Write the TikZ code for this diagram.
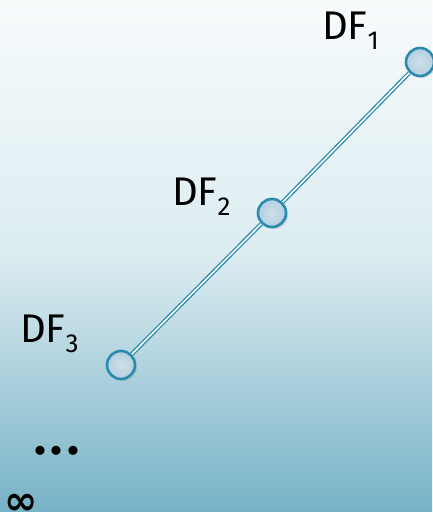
\documentclass[tikz,border=0pt]{standalone}
\usepackage{fontspec}
\setmainfont{Fira Sans}
\newfontfamily\symfont{DejaVu Sans}
\usetikzlibrary{shadows}

\definecolor{bgtop}{HTML}{F7FBFC}
\definecolor{bgmid}{HTML}{DCECF1}
\definecolor{bgbot}{HTML}{76B2C6}
\definecolor{ringcol}{HTML}{2B8BAF}
\definecolor{ballcol}{HTML}{C3D7E5}

\begin{document}
\begin{tikzpicture}[
      x=1pt, y=-1pt,
      ball/.style={circle, draw=ringcol, line width=2.6pt, minimum size=28pt, inner sep=0pt,
        inner color=ballcol!80, outer color=ballcol!90!ringcol,
        drop shadow={shadow xshift=2pt, shadow yshift=-2pt, opacity=.25}},
      link/.style={double=white, draw=ringcol, line width=1.3pt, double distance=1.6pt},
      label/.style={anchor=base west, inner sep=0pt, font=\fontsize{40}{44}\selectfont}
    ]

    % background
    \shade[top color=bgtop, bottom color=bgbot, middle color=bgmid] (0,0) rectangle (432,512);
    \useasboundingbox (0,0) rectangle (432,512);

    \node[ball] (df1) at (420,62) {};
    \node[ball] (df2) at (272,213) {};
    \node[ball] (df3) at (121,365) {};

    \draw[link] (df1) -- (df2);
    \draw[link] (df2) -- (df3);

    \node[label] (l1) at (322,39) {DF\raisebox{-.27em}{\fontsize{26}{26}\selectfont 1}};
    \node[label] (l2) at (172,205) {DF\raisebox{-.27em}{\fontsize{26}{26}\selectfont 2}};
    \node[label] (l3) at (20,342) {DF\raisebox{-.27em}{\fontsize{26}{26}\selectfont 3}};

    \node[label, font=\bfseries\fontsize{50}{54}\selectfont] (dots) at (34,454) {.\kern4.5pt.\kern4.5pt.};
    \node[label, font=\symfont\bfseries\fontsize{40}{44}\selectfont] (inf) at (4,514) {∞};

  \end{tikzpicture}
\end{document}
